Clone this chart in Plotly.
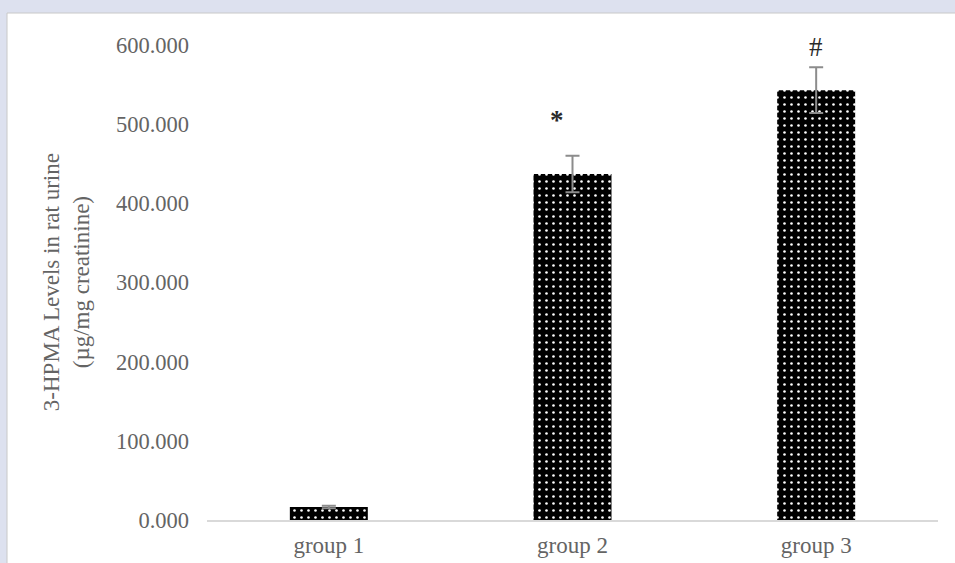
import plotly.graph_objects as go

categories = ["group 1", "group 2", "group 3"]
values = [16.5, 437.0, 543.0]
errors = [1.5, 23.0, 29.0]
markers = ["", "<b>*</b>", "#"]
marker_y = [None, 505.0, 597.0]
marker_shift = [0, -16, 0]
y_ticks = [0, 100, 200, 300, 400, 500, 600]

font_family = "Liberation Serif, Times New Roman, serif"
gray = "#646464"

fig = go.Figure()
fig.add_trace(go.Bar(
    x=categories, y=values, width=0.32,
    marker=dict(color="black", line=dict(width=0),
                pattern=dict(shape=".", fgcolor="white", bgcolor="black",
                             size=7, solidity=0.11, fillmode="replace")),
    error_y=dict(type="data", array=errors, visible=True,
                 color="#8c8c8c", thickness=2, width=7),
))

annotations = []
for c, m, yv, sh in zip(categories, markers, marker_y, marker_shift):
    if m:
        annotations.append(dict(x=c, y=yv, xref="x", yref="y", text=m,
                                showarrow=False, yanchor="middle", xshift=sh,
                                font=dict(family=font_family, size=27, color="#2a2a2a")))

annotations.append(dict(
    x=-0.192, y=0.5, xref="paper", yref="paper",
    text="3-HPMA Levels in rat urine<br>(µg/mg creatinine)",
    textangle=-90, showarrow=False, xanchor="center", yanchor="middle",
    font=dict(family=font_family, size=23, color=gray)))

W, H = 955, 563
l, r, t, b = 207, 17, 45, 43
pw, ph = W - l - r, H - t - b

def px(xp):
    return (xp - l) / pw

def py(yp):
    return (H - b - yp) / ph

fig.update_layout(
    width=W, height=H,
    margin=dict(l=l, r=r, t=t, b=b, pad=0),
    paper_bgcolor="#dde1ef",
    plot_bgcolor="white",
    showlegend=False,
    annotations=annotations,
    shapes=[dict(type="rect", xref="paper", yref="paper",
                 x0=px(7), x1=px(960), y0=py(570), y1=py(13),
                 fillcolor="white", line=dict(color="#c8c8c8", width=1),
                 layer="below")],
    xaxis=dict(showgrid=False, showline=True, linecolor="#d9d9d9", linewidth=1.5,
               ticks="", automargin=False,
               tickfont=dict(family=font_family, size=23, color=gray),
               ticklabelstandoff=4),
    yaxis=dict(range=[0, 600], tickvals=y_ticks, tickformat=".3f",
               showgrid=False, showline=False, zeroline=False,
               ticks="", automargin=False,
               tickfont=dict(family=font_family, size=22.5, color=gray),
               ticklabelstandoff=17),
)

fig.write_html("out.html")
